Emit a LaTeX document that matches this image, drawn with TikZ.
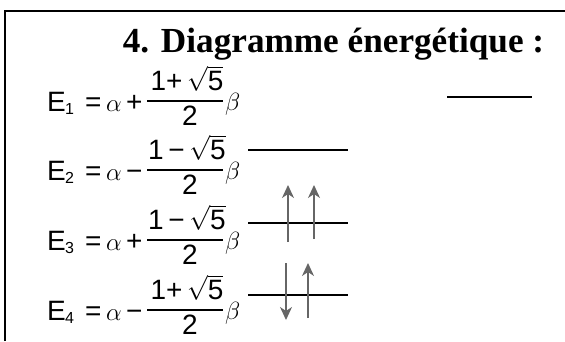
\documentclass[tikz,border=0pt]{standalone}
\usepackage{fontspec}
\usepackage{amsmath}
\setmainfont{Liberation Sans}
\newfontfamily\titlefont{Liberation Serif}
\usetikzlibrary{arrows.meta}
\tikzset{
  frameline/.style={line width=1.6pt, black},
  titletext/.style={font=\titlefont\fontsize{35.2}{40}\selectfont\bfseries, inner sep=0pt, anchor=base},
  eqtext/.style={font=\fontsize{28}{32}\selectfont, inner sep=0pt, anchor=base west},
  subtext/.style={font=\fontsize{16}{18}\selectfont, inner sep=0pt, anchor=base west},
  greektext/.style={font=\fontsize{27}{30}\selectfont, inner sep=0pt, anchor=base west},
  betatext/.style={font=\fontsize{24}{28}\selectfont, inner sep=0pt, anchor=base west},
  fracbar/.style={line width=1.3pt, black},
  level/.style={line width=1.5pt, black},
  spin/.style={line width=1.3pt, gray!80!black, -{Stealth[length=13pt,width=12pt,inset=4pt]}}
}
% one energy row: #1 name prefix, #2 y of the fraction bar, #3 index, #4 sign, #5 sign in numerator
\newcommand{\erow}[5]{%
  \node[eqtext] (#1E) at (47,{#2+10}) {E};
  \node[subtext] (#1s) at (65,{#2+13}) {#3};
  \node[eqtext] (#1eq) at (85,{#2+10}) {=};
  \node[greektext] (#1a) at (106,{#2+10}) {$\alpha$};
  \node[eqtext] (#1op) at (126,{#2+10}) {#4};
  \node[eqtext, anchor=base] (#1num) at (187,{#2-11}) {1#5$\sqrt{\text{5}}$};
  \node[eqtext, anchor=base] (#1den) at (190,{#2+24}) {2};
  \node[betatext] (#1b) at (225,{#2+9}) {$\beta$};
  \coordinate (#1ba) at (147,#2);
  \coordinate (#1bb) at (223,#2);
  \draw[fracbar] (#1ba) -- (#1bb);
}
\begin{document}
\begin{tikzpicture}[x=1pt,y=-1pt]
\useasboundingbox (0,0) rectangle (565,341);
% frame (left and top sides only visible)
\coordinate (fbl) at (5,341);
\coordinate (ftl) at (5,11);
\coordinate (ftr) at (565,11);
\draw[frameline] (fbl) -- (ftl) -- (ftr);
% title
\node[titletext] (title) at (333.5,52) {4. Diagramme énergétique :};
% equations
\erow{r1}{101}{1}{+}{+\,}
\erow{r2}{170}{2}{−}{\,−\,}
\erow{r3}{240}{3}{+}{\,−\,}
\erow{r4}{310}{4}{−}{+\,}
% levels
\coordinate (l1a) at (447,97);  \coordinate (l1b) at (532,97);
\coordinate (l2a) at (248,150); \coordinate (l2b) at (348,150);
\coordinate (l3a) at (248,223); \coordinate (l3b) at (348,223);
\coordinate (l4a) at (248,295); \coordinate (l4b) at (348,295);
\draw[level] (l1a) -- (l1b);
\draw[level] (l2a) -- (l2b);
\draw[level] (l3a) -- (l3b);
\draw[level] (l4a) -- (l4b);
% electrons
\coordinate (s31a) at (288,242); \coordinate (s31b) at (288,185);
\coordinate (s32a) at (314,239); \coordinate (s32b) at (314,185);
\coordinate (s41a) at (286,263); \coordinate (s41b) at (286,320);
\coordinate (s42a) at (308,318); \coordinate (s42b) at (308,263);
\draw[spin] (s31a) -- (s31b);
\draw[spin] (s32a) -- (s32b);
\draw[spin] (s41a) -- (s41b);
\draw[spin] (s42a) -- (s42b);
\end{tikzpicture}
\end{document}
